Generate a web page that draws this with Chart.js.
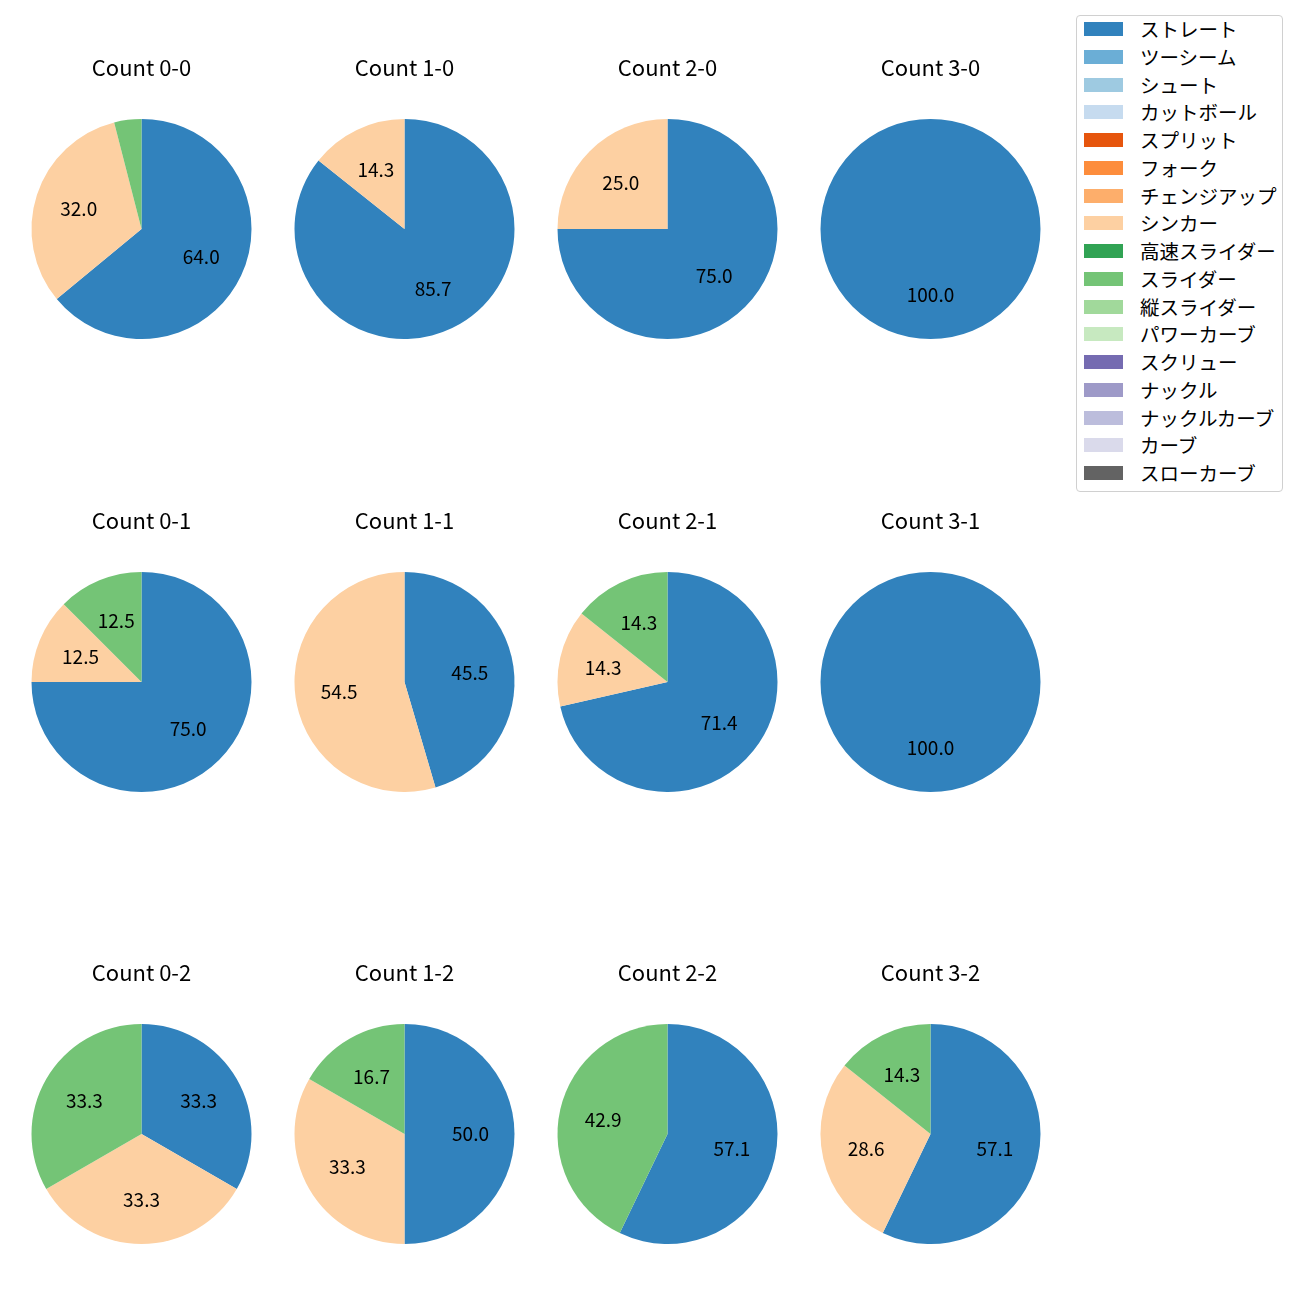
<!DOCTYPE html>
<html><head><meta charset="utf-8">
<script src="https://cdn.jsdelivr.net/npm/chart.js@4"></script>
<style>
body{margin:0;background:#fff;width:1300px;height:1300px;position:relative;overflow:hidden;font-family:"Noto Sans CJK JP",sans-serif;}
.cell{position:absolute;}
#legend{position:absolute;left:1076px;top:15px;width:207px;height:477px;border:1px solid #d0d0d0;border-radius:4px;background:#fff;box-sizing:border-box;}
.row{position:absolute;left:0;height:20px;width:200px;}
.sw{position:absolute;left:7px;width:39px;height:14px;}
.lt{position:absolute;left:63px;font-size:19.5px;line-height:20px;color:#000;white-space:nowrap;}
</style></head><body>
<div id="legend"></div>
<script>
const pitchTypes = ['ストレート','ツーシーム','シュート','カットボール','スプリット','フォーク','チェンジアップ','シンカー','高速スライダー','スライダー','縦スライダー','パワーカーブ','スクリュー','ナックル','ナックルカーブ','カーブ','スローカーブ'];
const pitchColors = ['#3182bd','#6baed6','#9ecae1','#c6dbef','#e6550d','#fd8d3c','#fdae6b','#fdd0a2','#31a354','#74c476','#a1d99b','#c7e9c0','#756bb1','#9e9ac8','#bcbddc','#dadaeb','#636363'];
const countLabels = ['0-0','1-0','2-0','3-0','0-1','1-1','2-1','3-1','0-2','1-2','2-2','3-2'];
// pitches thrown per count (only types that appear)
const straightVals = [16,6,3,1, 6,5,5,1, 1,3,4,4];
const sinkerVals   = [8,1,1,0, 1,6,1,0, 1,2,0,2];
const sliderVals   = [1,0,0,0, 1,0,1,0, 1,1,3,1];
const shownTypes = ['ストレート','シンカー','スライダー'];

const colX = [141,404,667,930];
const rowY = [229,681.5,1134];
const R = 110;
const FONT = '"Noto Sans CJK JP", sans-serif';

// legend
const lg = document.getElementById('legend');
pitchTypes.forEach((p,i)=>{
  const r = document.createElement('div');
  r.className='row';
  r.style.top = (3 + i*27.75) + 'px';
  r.innerHTML = `<div class="sw" style="top:3px;background:${pitchColors[i]}"></div><div class="lt" style="top:0">${p}</div>`;
  lg.appendChild(r);
});

const pctLabels = {
  id:'pctLabels',
  afterDatasetsDraw(chart){
    const ctx = chart.ctx;
    const meta = chart.getDatasetMeta(0);
    const data = chart.data.datasets[0].data;
    const total = data.reduce((a,b)=>a+b,0);
    ctx.save();
    ctx.font = '19px ' + FONT;
    ctx.fillStyle = '#000';
    ctx.textAlign='center';
    ctx.textBaseline='middle';
    meta.data.forEach((arc,i)=>{
      const pct = data[i]/total*100;
      if (pct < 5) return;
      const mid = (arc.startAngle + arc.endAngle)/2;
      const x = arc.x + Math.cos(mid)*arc.outerRadius*0.6;
      const y = arc.y + Math.sin(mid)*arc.outerRadius*0.6;
      ctx.fillText(pct.toFixed(1), x, y);
    });
    ctx.restore();
  }
};

countLabels.forEach((c,k)=>{
  const col = k%4, row = Math.floor(k/4);
  const cx = colX[col], cy = rowY[row];
  const div = document.createElement('div');
  div.className='cell';
  const W = 263, H = 300;
  div.style.left = (cx - W/2) + 'px';
  div.style.top = (cy - R - 80) + 'px';
  div.style.width = W+'px'; div.style.height = H+'px';
  const cv = document.createElement('canvas');
  div.appendChild(cv);
  document.body.appendChild(div);
  const vals = [straightVals[k], sinkerVals[k], sliderVals[k]];
  new Chart(cv, {
    type:'pie',
    data:{
      labels: shownTypes,
      datasets:[{
        data: vals,
        backgroundColor: shownTypes.map(t=>pitchColors[pitchTypes.indexOf(t)]),
        borderWidth:0,
        hoverOffset:0,
        offset:0
      }]
    },
    options:{
      responsive:true, maintainAspectRatio:false, animation:false,
      layout:{padding:{left:(W-220)/2,right:(W-220)/2,top:0,bottom:0}},
      plugins:{
        legend:{display:false},
        tooltip:{enabled:false},
        title:{display:true,text:'Count '+c,color:'#000',font:{family:FONT,size:22,weight:'normal',lineHeight:1.2},padding:{top:15.6,bottom:38}}
      }
    },
    plugins:[pctLabels]
  });
});
</script>
</body></html>
